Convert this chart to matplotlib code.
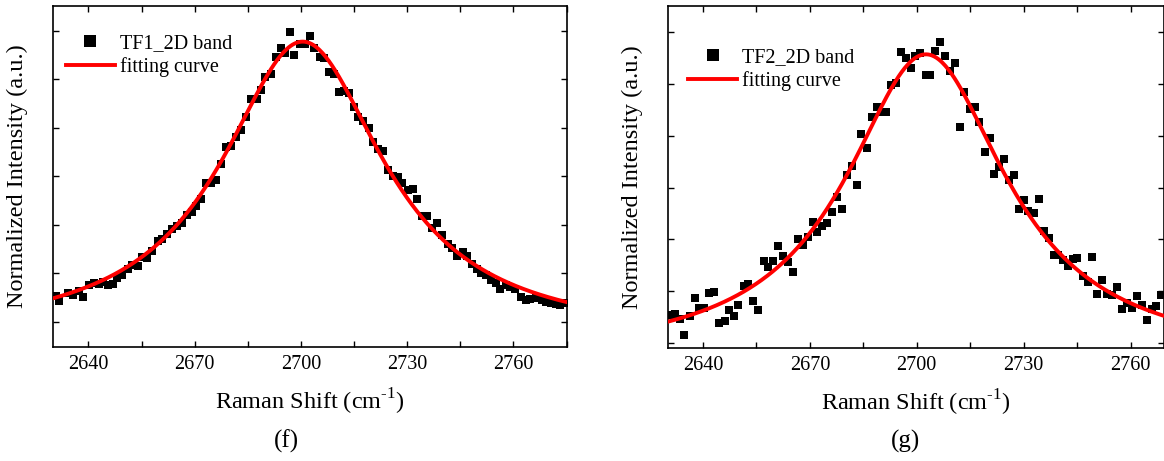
import numpy as np
import matplotlib.pyplot as plt
from matplotlib.ticker import MultipleLocator, NullFormatter

plt.rcParams['font.family'] = ['Liberation Serif', 'DejaVu Serif']
plt.rcParams['mathtext.fontset'] = 'custom'
plt.rcParams['mathtext.rm'] = 'Liberation Serif'

# Panel (f): TF1 2D band (normalized units)
x_tf1 = [2630.76, 2631.82, 2634.16, 2635.75, 2637.35, 2638.62, 2640.21, 2641.59, 2642.87, 2644.25,
         2645.52, 2646.90, 2648.18, 2649.56, 2651.15, 2652.42, 2653.91, 2655.19, 2656.67, 2658.05,
         2659.65, 2660.71, 2662.09, 2663.57, 2664.95, 2666.55, 2667.82, 2669.20, 2670.48, 2671.86,
         2673.24, 2674.51, 2676.10, 2677.49, 2678.76, 2680.35, 2681.73, 2683.22, 2684.60, 2685.87,
         2687.68, 2688.85, 2689.91, 2691.50, 2692.88, 2694.26, 2695.54, 2696.81, 2698.19, 2699.68,
         2701.27, 2702.44, 2703.82, 2705.31, 2706.58, 2707.96, 2709.34, 2710.83, 2712.10, 2713.59,
         2714.86, 2716.14, 2717.62, 2719.11, 2720.39, 2721.87, 2723.15, 2724.63, 2726.12, 2727.40,
         2728.67, 2730.26, 2731.54, 2732.92, 2734.30, 2735.58, 2736.96, 2738.55, 2739.93, 2741.42,
         2742.80, 2744.07, 2745.66, 2746.94, 2748.32, 2749.70, 2750.97, 2752.35, 2753.73, 2755.00,
         2756.28, 2757.87, 2759.14, 2760.52, 2762.12, 2763.50, 2764.77, 2766.36, 2767.96, 2769.23,
         2770.61, 2771.99, 2773.27, 2774.33]
y_tf1 = [0.106, 0.087, 0.120, 0.110, 0.128, 0.100, 0.151, 0.161, 0.155, 0.165,
         0.150, 0.155, 0.179, 0.191, 0.216, 0.232, 0.231, 0.265, 0.263, 0.290,
         0.331, 0.340, 0.360, 0.384, 0.396, 0.406, 0.440, 0.454, 0.478, 0.506,
         0.572, 0.570, 0.583, 0.649, 0.722, 0.724, 0.760, 0.792, 0.843, 0.920,
         0.920, 0.955, 1.008, 1.021, 1.093, 1.130, 1.107, 1.193, 1.101, 1.144,
         1.144, 1.179, 1.130, 1.090, 1.086, 1.031, 1.021, 0.948, 0.953, 0.943,
         0.887, 0.843, 0.829, 0.797, 0.742, 0.711, 0.705, 0.625, 0.601, 0.598,
         0.573, 0.543, 0.546, 0.506, 0.436, 0.437, 0.388, 0.408, 0.357, 0.319,
         0.302, 0.271, 0.287, 0.271, 0.236, 0.216, 0.202, 0.191, 0.172, 0.161,
         0.136, 0.151, 0.144, 0.137, 0.103, 0.089, 0.092, 0.096, 0.089, 0.082,
         0.078, 0.073, 0.069, 0.076]

# Panel (g): TF2 2D band
x_tf2 = [2631.17, 2632.20, 2633.43, 2634.76, 2636.30, 2637.64, 2638.97, 2640.41, 2641.75, 2643.08,
         2644.52, 2646.06, 2647.39, 2648.62, 2649.96, 2651.50, 2652.73, 2654.17, 2655.50, 2657.04,
         2658.37, 2659.71, 2661.15, 2662.48, 2663.82, 2665.36, 2666.69, 2668.13, 2669.36, 2670.80,
         2672.13, 2673.46, 2674.90, 2676.34, 2677.67, 2679.01, 2680.34, 2681.78, 2683.22, 2684.45,
         2686.09, 2687.32, 2688.76, 2690.09, 2691.43, 2692.76, 2694.10, 2695.53, 2696.87, 2698.31,
         2699.64, 2700.98, 2702.52, 2703.85, 2705.08, 2706.62, 2707.96, 2709.29, 2710.73, 2712.27,
         2713.40, 2714.83, 2716.27, 2717.60, 2719.04, 2720.48, 2721.81, 2723.15, 2724.58, 2725.92,
         2727.25, 2728.69, 2730.03, 2731.36, 2732.80, 2734.23, 2735.67, 2737.00, 2738.44, 2739.78,
         2741.11, 2742.45, 2743.78, 2745.12, 2746.55, 2747.99, 2749.32, 2750.66, 2752.09, 2753.43,
         2754.87, 2756.30, 2757.74, 2759.08, 2760.41, 2761.85, 2763.18, 2764.52, 2765.95, 2767.29,
         2768.52]
y_tf2 = [0.109, 0.113, 0.093, 0.032, 0.105, 0.173, 0.135, 0.135, 0.193, 0.197,
         0.077, 0.084, 0.128, 0.103, 0.148, 0.222, 0.227, 0.161, 0.128, 0.315,
         0.293, 0.315, 0.375, 0.337, 0.312, 0.276, 0.401, 0.379, 0.411, 0.469,
         0.430, 0.452, 0.463, 0.507, 0.565, 0.516, 0.649, 0.685, 0.608, 0.806,
         0.752, 0.871, 0.912, 0.890, 0.890, 0.996, 1.005, 1.124, 1.099, 1.060,
         1.108, 1.120, 1.034, 1.034, 1.127, 1.163, 1.108, 1.051, 1.079, 0.835,
         0.970, 0.903, 0.912, 0.851, 0.739, 0.793, 0.651, 0.681, 0.710, 0.630,
         0.648, 0.516, 0.552, 0.511, 0.500, 0.556, 0.434, 0.405, 0.339, 0.339,
         0.319, 0.298, 0.325, 0.330, 0.257, 0.234, 0.331, 0.190, 0.244, 0.190,
         0.184, 0.215, 0.131, 0.154, 0.135, 0.180, 0.148, 0.090, 0.131, 0.144,
         0.186]

# Lorentzian fit parameters (xc, w, A, y0) estimated from the red curves
fit_tf1 = (2700.5, 28.0, 1.2255, -0.0705)
fit_tf2 = (2702.6, 27.5, 1.18, -0.066)

xticks = [2640, 2670, 2700, 2730, 2760]
yticks = [0.0, 0.2, 0.4, 0.6, 0.8, 1.0, 1.2]


def lorentz(x, xc, w, A, y0):
    return y0 + A / (1 + ((x - xc) / w) ** 2)


def draw_panel(ax, x, y, fit, label, xlim, ylim, leg_anchor):
    xs = np.linspace(xlim[0], xlim[1], 500)
    ax.plot(x, y, 's', color='black', ms=5.8, mew=0, label=label, zorder=2)
    ax.plot(xs, lorentz(xs, *fit), '-', color='red', lw=2.8,
            label='fitting curve', zorder=3)
    ax.set_xlim(xlim)
    ax.set_ylim(ylim)
    ax.set_xticks(xticks)
    ax.xaxis.set_minor_locator(MultipleLocator(15))
    ax.set_yticks(yticks)
    ax.yaxis.set_major_formatter(NullFormatter())
    ax.tick_params(which='both', direction='in', top=True, right=True,
                   length=4.5, width=1.0, labelsize=14.5, pad=6)
    for s in ax.spines.values():
        s.set_linewidth(1.2)
    ax.set_xlabel('Raman Shift (cm$^{\\mathregular{\u2010}1}$)', fontsize=17.5, labelpad=9)
    ax.set_ylabel('Normalized Intensity (a.u.)', fontsize=17.5, labelpad=12)
    ax.legend(loc='upper left', bbox_to_anchor=leg_anchor, frameon=False,
              fontsize=14.5, handlelength=2.45, handletextpad=0.25,
              labelspacing=0.2, markerscale=1.6, borderaxespad=0)


fig = plt.figure(figsize=(11.64, 4.61), dpi=100)
ax1 = fig.add_axes([0.0455, 0.2479, 0.4412, 0.7397])
ax2 = fig.add_axes([0.5739, 0.2451, 0.4261, 0.7425])

draw_panel(ax1, x_tf1, y_tf1, fit_tf1, 'TF1_2D band', (2630, 2775), (-0.103, 1.303), (0.009, 0.94))
draw_panel(ax2, x_tf2, y_tf2, fit_tf2, 'TF2_2D band', (2630.2, 2769.4), (-0.019, 1.3015), (0.024, 0.9))

fig.text(286 / 1164, 1 - 441.7 / 461, '(f)', ha='center', va='center', fontsize=18)
fig.text(905.5 / 1164, 1 - 441.7 / 461, '(g)', ha='center', va='center', fontsize=18)

fig.savefig('out.png', dpi=100)
